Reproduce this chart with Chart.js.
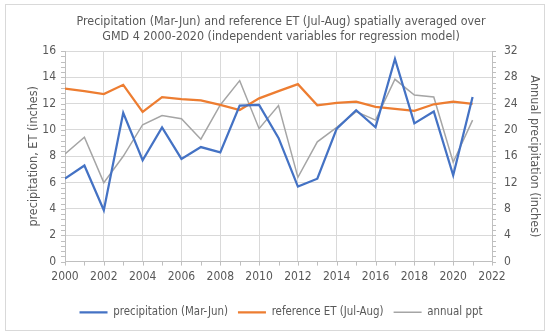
<!DOCTYPE html>
<html lang="en">
<head>
  <meta charset="UTF-8">
  <title>GMD 4 precipitation and ET</title>
  <script src="https://cdn.jsdelivr.net/npm/chart.js"></script>
  <style>
    body {
      margin: 0;
      background: #fff;
    }
    #wrap {
      position: relative;
      width: 550px;
      height: 335px;
    }
    #frame {
      position: absolute;
      left: 5px;
      top: 4px;
      width: 538px;
      height: 325px;
      border: 1px solid #d9d9d9;
      pointer-events: none;
    }
  </style>
</head>
<body>
  <div id="wrap">
    <canvas id="chart" width="550" height="335"></canvas>
    <div id="frame"></div>
  </div>

  <script>
    const years = [2000, 2001, 2002, 2003, 2004, 2005, 2006, 2007, 2008, 2009, 2010,
                   2011, 2012, 2013, 2014, 2015, 2016, 2017, 2018, 2019, 2020, 2021];
    // inches
    const springPrecip = [6.3, 7.3, 3.9, 11.3, 7.7, 10.2, 7.8, 8.7, 8.3, 11.85, 11.9,
                          9.4, 5.7, 6.3, 10.1, 11.5, 10.2, 15.4, 10.5, 11.4, 6.55, 12.5];
    const refET = [13.15, 12.95, 12.73, 13.43, 11.37, 12.5, 12.35, 12.25, 11.9, 11.52, 12.4,
                   12.95, 13.48, 11.87, 12.05, 12.15, 11.75, 11.6, 11.45, 11.95, 12.15, 11.98];
    const annualPpt = [16.35, 18.9, 12.0, 16.0, 20.8, 22.2, 21.7, 18.6, 23.8, 27.5, 20.2,
                       23.7, 12.8, 18.2, 20.4, 22.8, 21.5, 27.7, 25.3, 25.0, 15.1, 21.5];

    const seriesNames = ["precipitation (Mar-Jun)", "reference ET (Jul-Aug)", "annual ppt"];
    const titleLines = ["Precipitation (Mar-Jun) and reference ET (Jul-Aug) spatially averaged over",
                        "GMD 4 2000-2020 (independent variables for regression model)"];

    const txt = "#595959";
    const fontFam = "'Liberation Sans Narrow', 'DejaVu Sans Condensed', 'Open Sans', sans-serif";

    function pts(vals) {
      return years.map((yr, i) => ({ x: yr, y: vals[i] }));
    }

    // little outside tick marks like excel's minor ticks
    const minorTicks = {
      id: "minorTicks",
      afterDraw(chart) {
        const { ctx, chartArea: a, scales } = chart;
        ctx.save();
        ctx.strokeStyle = "#bfbfbf";
        ctx.lineWidth = 1;
        ctx.beginPath();
        for (let i = 0; i <= 40; i++) {
          const py = Math.round(scales.y.getPixelForValue(i * 0.4)) + 0.5;
          ctx.moveTo(a.left - 4, py); ctx.lineTo(a.left, py);
        }
        for (let i = 0; i <= 40; i++) {
          const py = Math.round(scales.y1.getPixelForValue(i * 0.8)) + 0.5;
          ctx.moveTo(a.right, py); ctx.lineTo(a.right + 4, py);
        }
        for (let yr = 2000; yr <= 2022; yr++) {
          const px = Math.round(scales.x.getPixelForValue(yr)) + 0.5;
          ctx.moveTo(px, a.bottom); ctx.lineTo(px, a.bottom + 4);
        }
        ctx.stroke();
        ctx.restore();
      }
    };

    new Chart(document.getElementById("chart"), {
      type: "line",
      data: {
        datasets: [
          {
            label: seriesNames[0],
            data: pts(springPrecip),
            borderColor: "#4472c4",
            backgroundColor: "#4472c4",
            borderWidth: 2.25,
            yAxisID: "y"
          },
          {
            label: seriesNames[1],
            data: pts(refET),
            borderColor: "#ed7d31",
            backgroundColor: "#ed7d31",
            borderWidth: 2.25,
            yAxisID: "y"
          },
          {
            label: seriesNames[2],
            data: pts(annualPpt),
            borderColor: "#a5a5a5",
            backgroundColor: "#a5a5a5",
            borderWidth: 1.5,
            yAxisID: "y1"
          }
        ]
      },
      options: {
        responsive: false,
        animation: false,
        elements: {
          point: { radius: 0 },
          line: { tension: 0 }
        },
        layout: { padding: { left: 20, right: 8, top: 0, bottom: 7 } },
        plugins: {
          title: {
            display: true,
            text: titleLines,
            color: txt,
            font: { family: fontFam, size: 12.4, weight: "normal", lineHeight: 1.25 },
            padding: { top: 14, bottom: 6 }
          },
          legend: {
            position: "bottom",
            labels: {
              color: txt,
              font: { family: fontFam, size: 11.4 },
              usePointStyle: true,
              pointStyle: "line",
              pointStyleWidth: 28,
              padding: 10
            }
          },
          tooltip: { enabled: false }
        },
        scales: {
          x: {
            type: "linear",
            min: 2000,
            max: 2022,
            ticks: {
              stepSize: 2,
              color: txt,
              font: { family: fontFam, size: 12 },
              padding: 8,
              callback: v => String(v)
            },
            grid: { color: "#d9d9d9", drawTicks: false },
            border: { color: "#bfbfbf" },
            afterFit: s => { s.height = 35; }
          },
          y: {
            position: "left",
            min: 0,
            max: 16,
            ticks: {
              stepSize: 2,
              color: txt,
              font: { family: fontFam, size: 12 },
              padding: 9
            },
            grid: { color: "#d9d9d9", drawTicks: false },
            border: { color: "#bfbfbf" },
            title: {
              display: true,
              text: "precipitation, ET (inches)",
              color: txt,
              font: { family: fontFam, size: 12.5 },
              padding: { top: 6, bottom: 0 }
            },
            afterFit: s => { s.width = 45; }
          },
          y1: {
            position: "right",
            min: 0,
            max: 32,
            ticks: {
              stepSize: 4,
              color: txt,
              font: { family: fontFam, size: 12 },
              padding: 12
            },
            grid: { drawOnChartArea: false, drawTicks: false },
            border: { color: "#bfbfbf" },
            title: {
              display: true,
              text: "Annual precipitation (inches)",
              color: txt,
              font: { family: fontFam, size: 12.5 },
              padding: { top: 0, bottom: 0 }
            },
            afterFit: s => { s.width = 50; }
          }
        }
      },
      plugins: [minorTicks]
    });
  </script>
</body>
</html>
